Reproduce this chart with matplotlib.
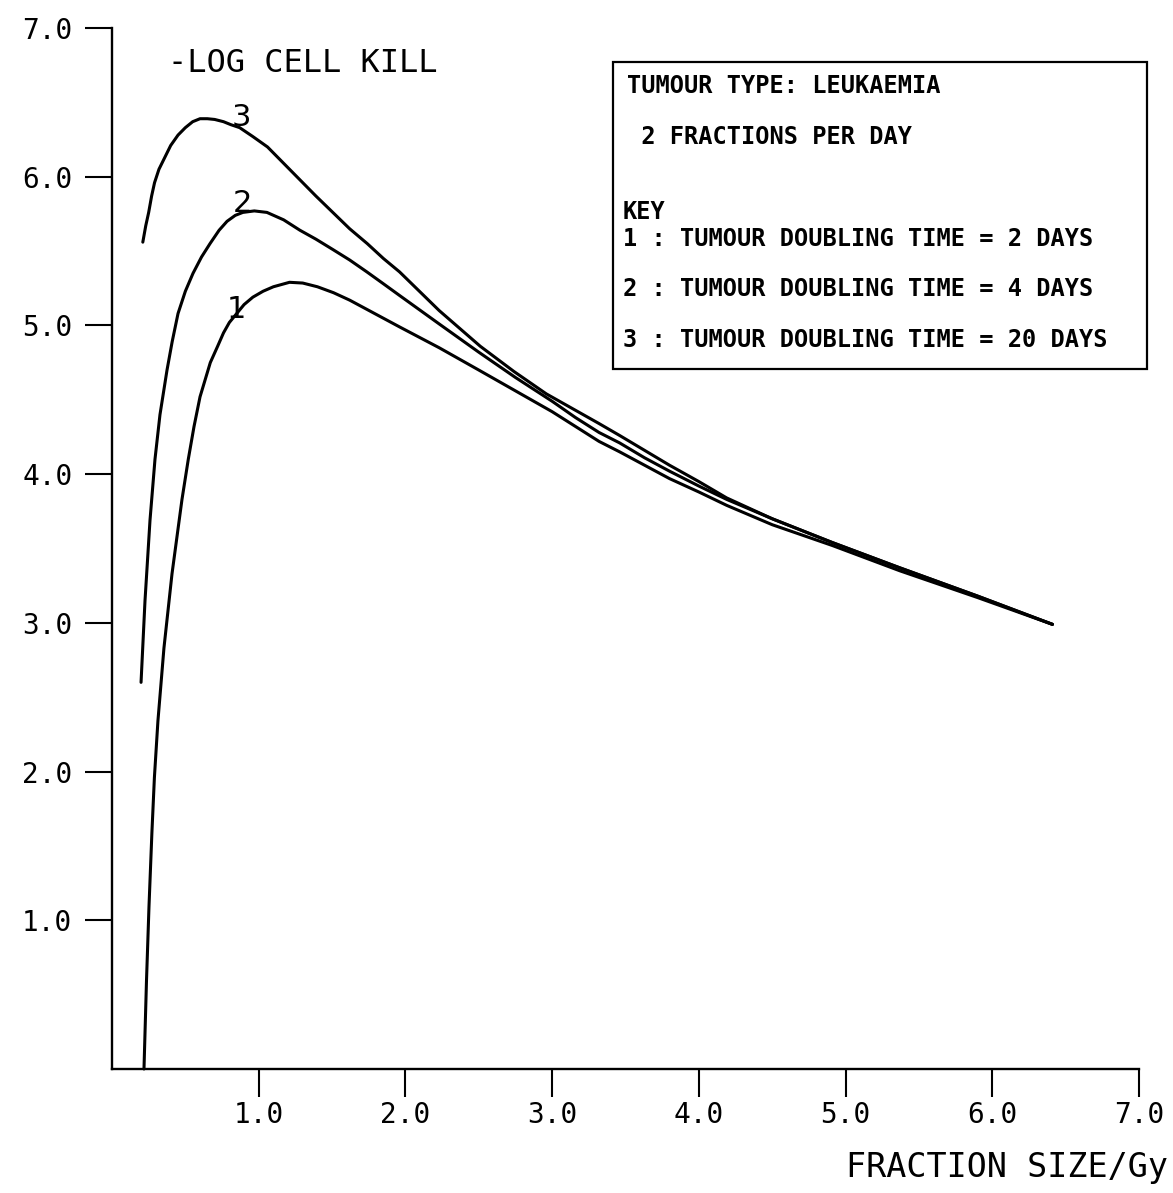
import matplotlib
matplotlib.use("Agg")
import matplotlib.pyplot as plt
from matplotlib.patches import Rectangle

# -log cell kill vs fraction size, leukaemia, 2 fractions per day
dose_1 = [0.218, 0.235, 0.252, 0.272, 0.289, 0.313, 0.354, 0.409, 0.477, 0.52,
          0.559, 0.60, 0.67, 0.72, 0.76, 0.80, 0.85, 0.90, 0.96, 1.03,
          1.10, 1.21, 1.30, 1.40, 1.51, 1.62, 1.79, 1.96, 2.23, 2.50,
          2.75, 3.00, 3.16, 3.32, 3.46, 3.63, 3.80, 4.00, 4.19, 4.50,
          4.91, 5.37, 5.90, 6.41]
kill_1 = [0.00, 0.59, 1.09, 1.59, 1.96, 2.34, 2.83, 3.33, 3.83, 4.10,
          4.32, 4.52, 4.75, 4.86, 4.95, 5.02, 5.08, 5.14, 5.19, 5.23,
          5.26, 5.29, 5.285, 5.26, 5.22, 5.17, 5.08, 4.99, 4.85, 4.70,
          4.56, 4.42, 4.32, 4.22, 4.15, 4.06, 3.97, 3.88, 3.79, 3.66,
          3.52, 3.35, 3.17, 2.99]

dose_2 = [0.198, 0.225, 0.259, 0.293, 0.327, 0.375, 0.41, 0.45, 0.50, 0.552,
          0.61, 0.668, 0.73, 0.784, 0.84, 0.892, 0.97, 1.056, 1.17, 1.281,
          1.39, 1.506, 1.62, 1.737, 1.85, 1.962, 2.23, 2.50, 2.75, 3.00,
          3.16, 3.32, 3.46, 3.63, 3.80, 4.00, 4.19, 4.50, 4.91, 5.37,
          5.90, 6.41]
kill_2 = [2.60, 3.15, 3.69, 4.10, 4.40, 4.70, 4.89, 5.08, 5.23, 5.35,
          5.46, 5.55, 5.64, 5.70, 5.74, 5.76, 5.77, 5.76, 5.71, 5.64,
          5.58, 5.51, 5.44, 5.36, 5.28, 5.20, 5.01, 4.82, 4.65, 4.49,
          4.38, 4.28, 4.21, 4.11, 4.02, 3.92, 3.83, 3.70, 3.54, 3.37,
          3.18, 2.99]

dose_3 = [0.21, 0.23, 0.25, 0.27, 0.29, 0.32, 0.36, 0.40, 0.45, 0.50,
          0.55, 0.60, 0.65, 0.70, 0.76, 0.81, 0.87, 0.96, 1.06, 1.17,
          1.28, 1.39, 1.505, 1.62, 1.74, 1.85, 1.96, 2.23, 2.51, 2.74,
          2.96, 3.14, 3.32, 3.46, 3.63, 3.80, 4.00, 4.19, 4.50, 4.91,
          5.37, 5.90, 6.41]
kill_3 = [5.56, 5.67, 5.76, 5.87, 5.96, 6.05, 6.13, 6.21, 6.28, 6.33,
          6.37, 6.39, 6.39, 6.385, 6.37, 6.35, 6.33, 6.27, 6.20, 6.09,
          5.98, 5.87, 5.76, 5.65, 5.55, 5.45, 5.36, 5.10, 4.86, 4.69,
          4.54, 4.44, 4.34, 4.26, 4.16, 4.06, 3.95, 3.84, 3.70, 3.54,
          3.37, 3.18, 2.99]

curve_tags = ["1", "2", "3"]
tag_pos = [(0.85, 5.11), (0.89, 5.82), (0.88, 6.40)]

ticks = [1, 2, 3, 4, 5, 6, 7]

key_lines = ["TUMOUR TYPE: LEUKAEMIA",
             " 2 FRACTIONS PER DAY",
             "KEY",
             "1 : TUMOUR DOUBLING TIME = 2 DAYS",
             "2 : TUMOUR DOUBLING TIME = 4 DAYS",
             "3 : TUMOUR DOUBLING TIME = 20 DAYS"]
key_baselines = [93, 144, 219, 246, 296, 347]

W, H = 1173, 1193


def fx(x):
    return x / W


def fy(y):
    return 1 - y / H


plt.rcParams['font.family'] = ['DejaVu Sans Mono', 'DejaVu Sans']

fig = plt.figure(figsize=(W / 100, H / 100), dpi=100)
ax = fig.add_axes([fx(112), fy(1069), fx(1139) - fx(112), fy(28) - fy(1069)])

for d, k in [(dose_1, kill_1), (dose_2, kill_2), (dose_3, kill_3)]:
    ax.plot(d, k, color='black', lw=2.2, solid_capstyle='round',
            solid_joinstyle='round', clip_on=False)

for tag, (x, y) in zip(curve_tags, tag_pos):
    ax.text(x, y, tag, fontsize=22, family='DejaVu Sans',
            ha='center', va='center')

ax.set_xlim(0, 7)
ax.set_ylim(0, 7)
ax.set_xticks(ticks)
ax.set_yticks(ticks)
ax.set_xticklabels([f"{t:.1f}" for t in ticks])
ax.set_yticklabels([f"{t:.1f}" for t in ticks])
ax.tick_params(axis='y', direction='out', length=19.5, width=1.5, pad=9, labelsize=20)
ax.tick_params(axis='x', direction='out', length=20, width=1.5, pad=3, labelsize=20)
for s in ['top', 'right']:
    ax.spines[s].set_visible(False)
for s in ['left', 'bottom']:
    ax.spines[s].set_linewidth(1.7)

fig.text(fx(168), fy(72), "-LOG CELL KILL", fontsize=23, va='baseline', ha='left')
fig.text(fx(1168), fy(1177), "FRACTION SIZE/Gy", fontsize=24, va='baseline', ha='right')

# key box
fig.add_artist(Rectangle((fx(613), fy(369)), fx(1147) - fx(613), fy(62) - fy(369),
                         transform=fig.transFigure, fill=False, lw=1.6, color='black'))
for line, b in zip(key_lines, key_baselines):
    x0 = 627 if line.startswith(("TUMOUR", " ")) else 623
    fig.text(fx(x0), fy(b), line, fontsize=17, fontweight='bold', va='baseline', ha='left')

fig.savefig('out.png', dpi=100)
